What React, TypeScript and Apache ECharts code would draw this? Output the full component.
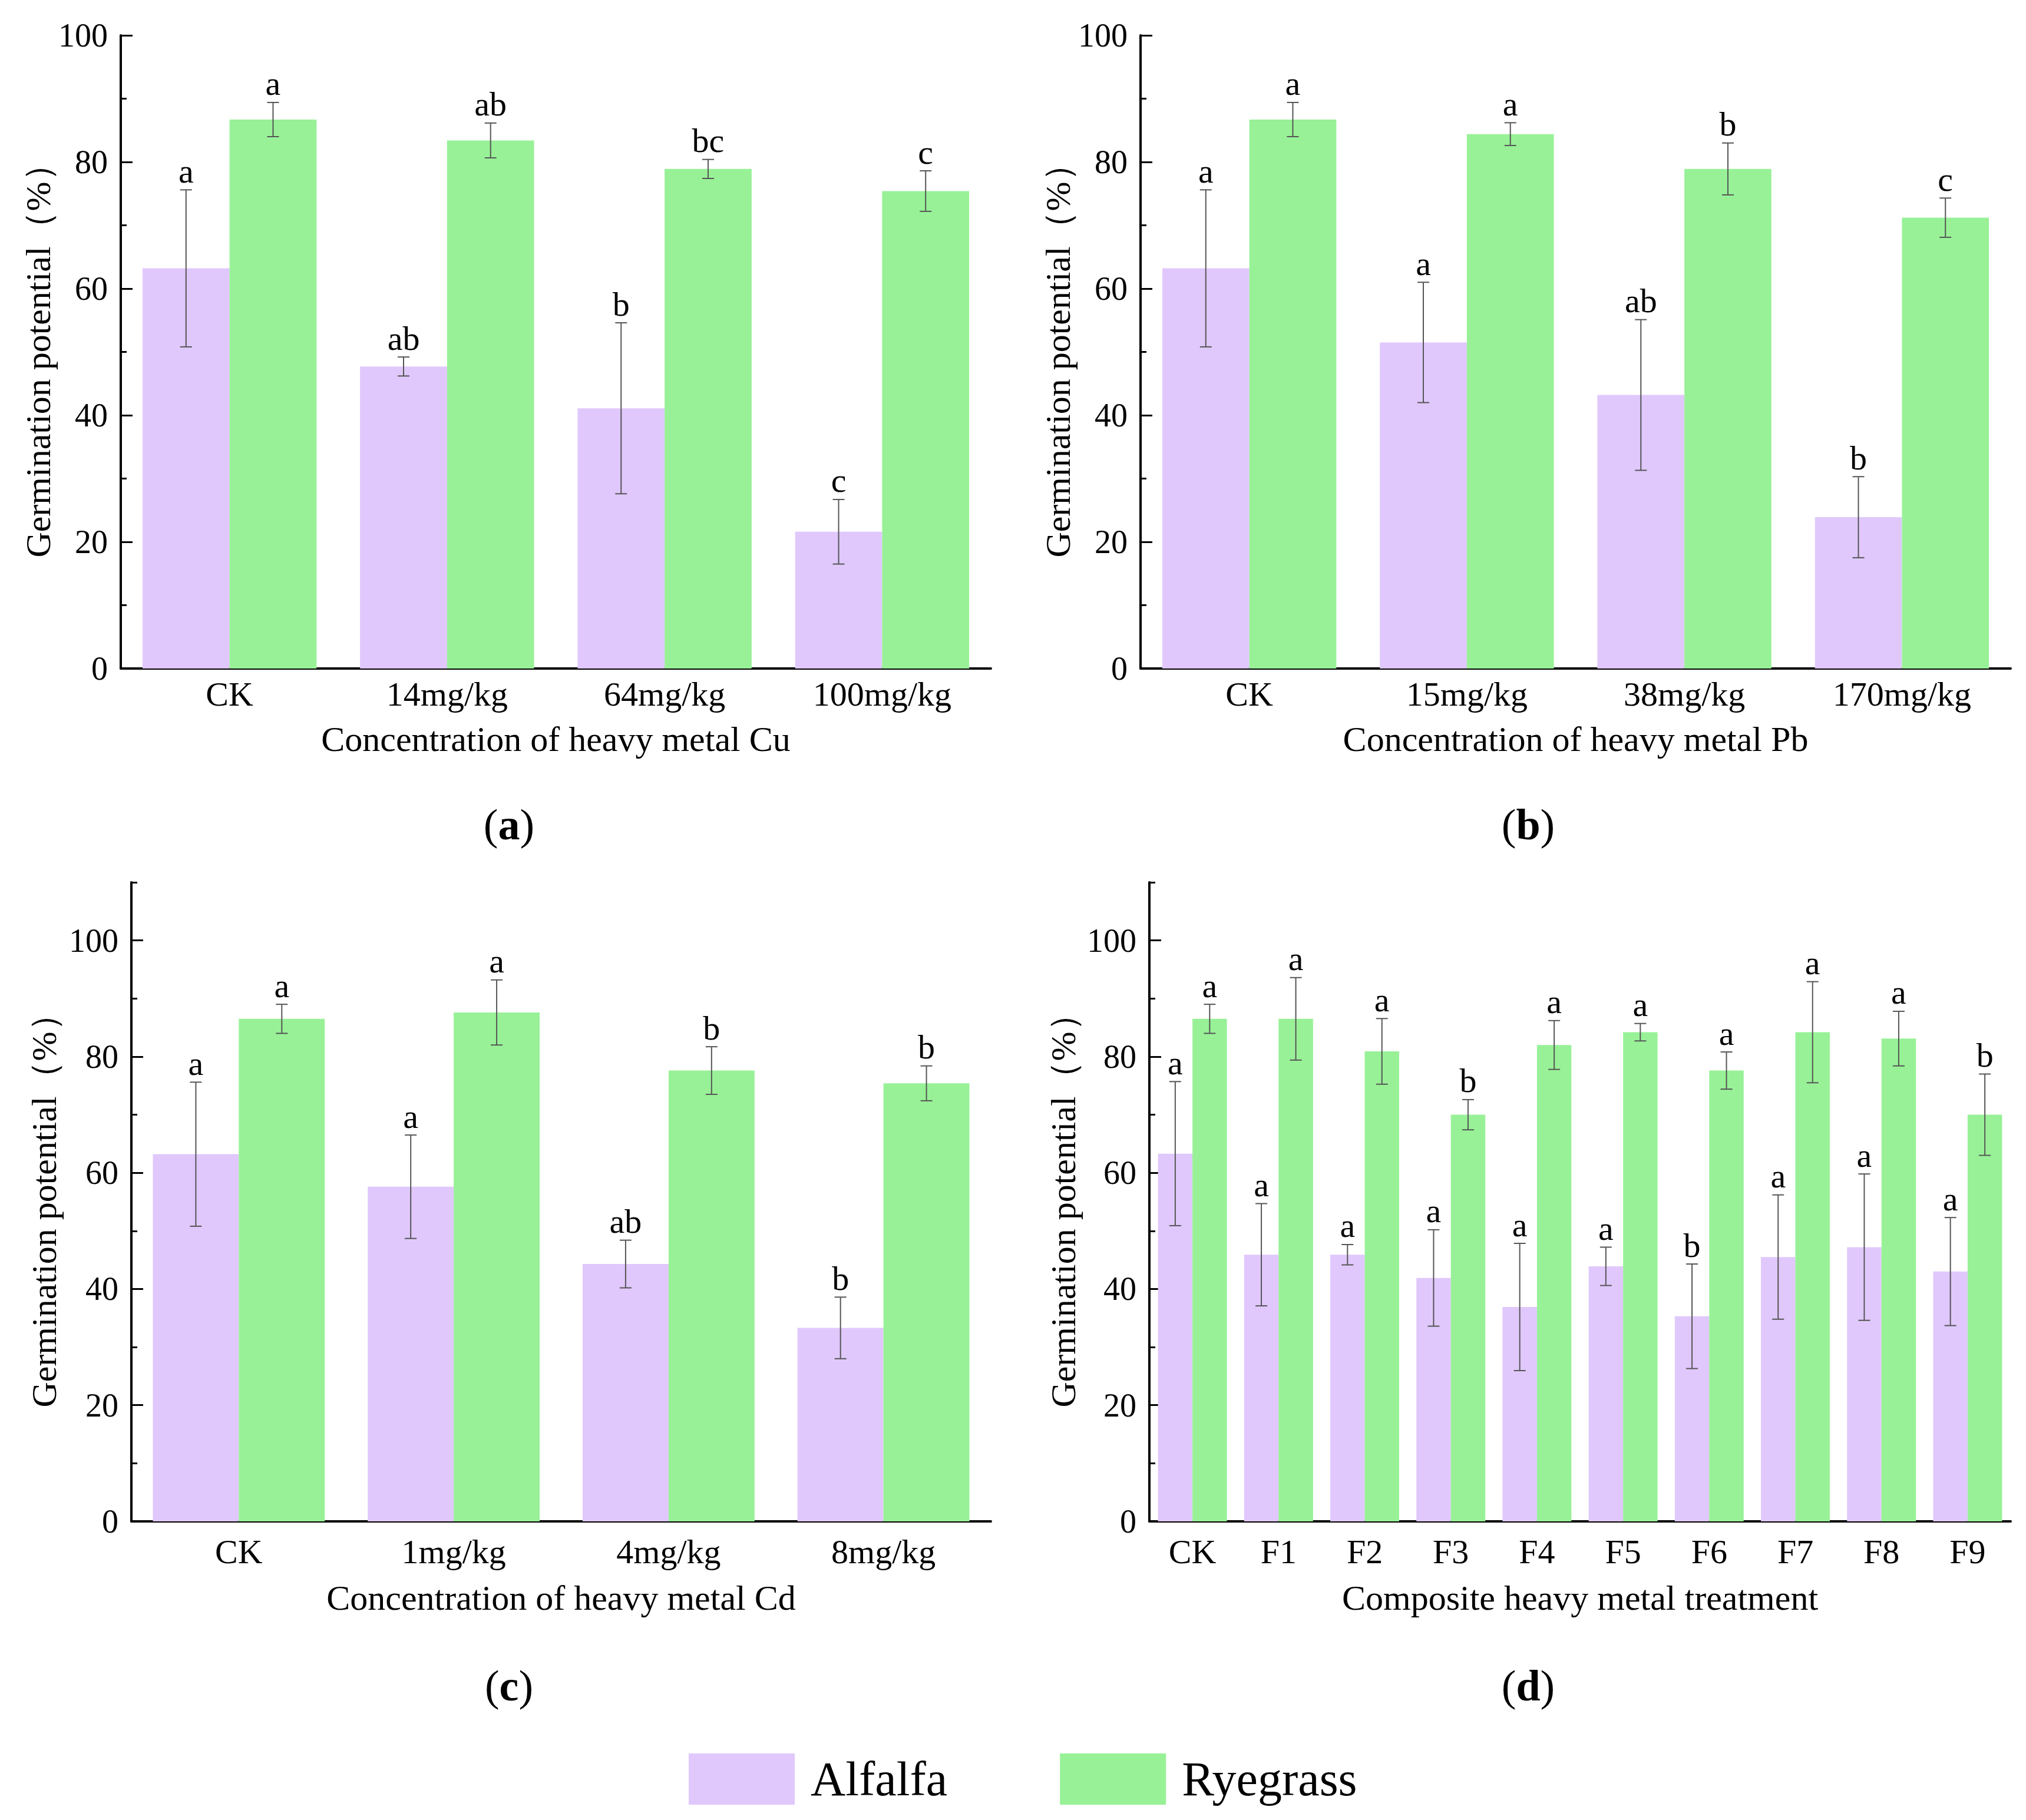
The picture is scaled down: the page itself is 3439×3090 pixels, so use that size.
import React, { useEffect, useRef } from 'react';
import * as echarts from 'echarts';

const FONT = '"Liberation Serif", "Times New Roman", serif';
const ALF_COLOR = '#E0C8FC';
const RYE_COLOR = '#98F197';
const ERR_COLOR = '#555555';

// ---- Panel (a) Cu ----
const cuCats = ['CK', '14mg/kg', '64mg/kg', '100mg/kg'];
const cuAlfalfa = [63.2, 47.7, 41.1, 21.6];
const cuAlfalfaErr = [12.4, 1.5, 13.5, 5.1];
const cuAlfalfaLetters = ['a', 'ab', 'b', 'c'];
const cuRye = [86.7, 83.4, 78.9, 75.4];
const cuRyeErr = [2.7, 2.75, 1.5, 3.2];
const cuRyeLetters = ['a', 'ab', 'bc', 'c'];

// ---- Panel (b) Pb ----
const pbCats = ['CK', '15mg/kg', '38mg/kg', '170mg/kg'];
const pbAlfalfa = [63.2, 51.5, 43.2, 23.9];
const pbAlfalfaErr = [12.4, 9.5, 11.9, 6.4];
const pbAlfalfaLetters = ['a', 'a', 'ab', 'b'];
const pbRye = [86.7, 84.4, 78.9, 71.2];
const pbRyeErr = [2.7, 1.8, 4.1, 3.1];
const pbRyeLetters = ['a', 'a', 'b', 'c'];

// ---- Panel (c) Cd ----
const cdCats = ['CK', '1mg/kg', '4mg/kg', '8mg/kg'];
const cdAlfalfa = [63.2, 57.6, 44.3, 33.3];
const cdAlfalfaErr = [12.4, 8.9, 4.1, 5.3];
const cdAlfalfaLetters = ['a', 'a', 'ab', 'b'];
const cdRye = [86.5, 87.6, 77.6, 75.4];
const cdRyeErr = [2.5, 5.6, 4.1, 3.0];
const cdRyeLetters = ['a', 'a', 'b', 'b'];

// ---- Panel (d) composite ----
const fCats = ['CK', 'F1', 'F2', 'F3', 'F4', 'F5', 'F6', 'F7', 'F8', 'F9'];
const fAlfalfa = [63.3, 45.9, 45.9, 41.9, 36.9, 43.9, 35.3, 45.5, 47.2, 43.0];
const fAlfalfaErr = [12.4, 8.8, 1.75, 8.3, 10.95, 3.3, 9.0, 10.7, 12.6, 9.3];
const fAlfalfaLetters = ['a', 'a', 'a', 'a', 'a', 'a', 'b', 'a', 'a', 'a'];
const fRye = [86.5, 86.5, 80.9, 70.0, 82.0, 84.2, 77.6, 84.2, 83.1, 70.0];
const fRyeErr = [2.5, 7.1, 5.65, 2.6, 4.2, 1.5, 3.2, 8.7, 4.7, 7.0];
const fRyeLetters = ['a', 'a', 'a', 'b', 'a', 'a', 'a', 'a', 'a', 'b'];

const majorTicks = [0, 20, 40, 60, 80, 100];
const minorTicksA = [10, 30, 50, 70, 90];
const minorTicksC = [10, 30, 50, 70, 90, 110];

const xTitles = [
  'Concentration of heavy metal Cu',
  'Concentration of heavy metal Pb',
  'Concentration of heavy metal Cd',
  'Composite heavy metal treatment',
];
const yTitle = 'Germination potential（%）';
const subLetters = ['a', 'b', 'c', 'd'];

function errSeries(gi: number, name: string, vals: number[], errs: number[], letters: string[], side: number) {
  return {
    type: 'custom',
    name,
    xAxisIndex: gi,
    yAxisIndex: gi * 2,
    z: 10,
    data: vals.map((v, i) => [i, v, errs[i]]),
    encode: { x: 0, y: 1 },
    renderItem: (params: any, api: any) => {
      const i = api.value(0);
      const v = api.value(1);
      const e = api.value(2);
      const band = api.size([1, 0])[0];
      const c = api.coord([i, v]);
      const x = c[0] + side * band * 0.2;
      const yTop = api.coord([i, v + e])[1];
      const yBot = api.coord([i, v - e])[1];
      const ls = { stroke: ERR_COLOR, lineWidth: 2 };
      return {
        type: 'group',
        children: [
          { type: 'line', shape: { x1: x, y1: yTop, x2: x, y2: yBot }, style: ls },
          { type: 'line', shape: { x1: x - 10, y1: yTop, x2: x + 10, y2: yTop }, style: ls },
          { type: 'line', shape: { x1: x - 10, y1: yBot, x2: x + 10, y2: yBot }, style: ls },
          {
            type: 'text',
            x,
            y: yTop - 32,
            style: {
              text: letters[params.dataIndex],
              fontSize: 58,
              fontFamily: FONT,
              fill: '#000',
              textAlign: 'center',
              textVerticalAlign: 'middle',
            },
          },
        ],
      };
    },
  };
}

const grids = [
  { left: 205, top: 60, width: 1477, height: 1075 },
  { left: 1936, top: 60, width: 1477, height: 1075 },
  { left: 223, top: 1498, width: 1459, height: 1085 },
  { left: 1951, top: 1498, width: 1462, height: 1085 },
];

export default function App() {
  const ref = useRef<HTMLDivElement>(null);
  useEffect(() => {
    document.body.style.margin = '0';
    document.body.style.overflow = 'hidden';
    if (!ref.current) return;
    const chart = echarts.init(ref.current, undefined, { renderer: 'svg' });

    const panels = [
      { cats: cuCats, a: cuAlfalfa, ae: cuAlfalfaErr, al: cuAlfalfaLetters, r: cuRye, re: cuRyeErr, rl: cuRyeLetters, max: 100, minor: minorTicksA, labelMargin: 14, xGap: 90, yGap: 105 },
      { cats: pbCats, a: pbAlfalfa, ae: pbAlfalfaErr, al: pbAlfalfaLetters, r: pbRye, re: pbRyeErr, rl: pbRyeLetters, max: 100, minor: minorTicksA, labelMargin: 14, xGap: 90, yGap: 105 },
      { cats: cdCats, a: cdAlfalfa, ae: cdAlfalfaErr, al: cdAlfalfaLetters, r: cdRye, re: cdRyeErr, rl: cdRyeLetters, max: 110, minor: minorTicksC, labelMargin: 22, xGap: 100, yGap: 118 },
      { cats: fCats, a: fAlfalfa, ae: fAlfalfaErr, al: fAlfalfaLetters, r: fRye, re: fRyeErr, rl: fRyeLetters, max: 110, minor: minorTicksC, labelMargin: 22, xGap: 100, yGap: 116 },
    ];

    const xAxis: any[] = [];
    const yAxis: any[] = [];
    const series: any[] = [];
    const graphic: any[] = [];

    panels.forEach((p, gi) => {
      xAxis.push({
        type: 'category',
        gridIndex: gi,
        data: p.cats,
        axisLine: { show: true, lineStyle: { color: '#000', width: 4 } },
        axisTick: { show: false },
        axisLabel: { fontSize: 58, fontFamily: FONT, color: '#000', margin: p.labelMargin },
        name: xTitles[gi],
        nameLocation: 'middle',
        nameGap: p.xGap,
        nameTextStyle: { fontSize: 60, fontFamily: FONT, color: '#000' },
        splitLine: { show: false },
      });
      yAxis.push({
        type: 'value',
        gridIndex: gi,
        position: 'left',
        min: 0,
        max: p.max,
        interval: 20,
        axisLine: { show: true, lineStyle: { color: '#000', width: 4 } },
        axisTick: { show: true, inside: true, length: 20, customValues: majorTicks, lineStyle: { color: '#000', width: 3 } },
        axisLabel: { customValues: majorTicks, fontSize: 56, fontFamily: FONT, color: '#000', margin: 22 },
        splitLine: { show: false },
        name: yTitle,
        nameLocation: 'middle',
        nameRotate: 90,
        nameGap: p.yGap,
        nameTextStyle: { fontSize: 60, fontFamily: FONT, color: '#000' },
      });
      yAxis.push({
        type: 'value',
        gridIndex: gi,
        position: 'left',
        min: 0,
        max: p.max,
        interval: 10,
        axisLine: { show: false },
        axisTick: { show: true, inside: true, length: 10, customValues: p.minor, lineStyle: { color: '#000', width: 3 } },
        axisLabel: { show: false },
        splitLine: { show: false },
      });
      series.push({
        type: 'bar',
        name: 'Alfalfa',
        xAxisIndex: gi,
        yAxisIndex: gi * 2,
        data: p.a,
        barGap: '0%',
        barCategoryGap: '20%',
        itemStyle: { color: ALF_COLOR },
      });
      series.push({
        type: 'bar',
        name: 'Ryegrass',
        xAxisIndex: gi,
        yAxisIndex: gi * 2,
        data: p.r,
        barGap: '0%',
        barCategoryGap: '20%',
        itemStyle: { color: RYE_COLOR },
      });
      series.push(errSeries(gi, 'Alfalfa SD', p.a, p.ae, p.al, -1));
      series.push(errSeries(gi, 'Ryegrass SD', p.r, p.re, p.rl, 1));
    });

    const subPos = [
      [864, 1400],
      [2594, 1400],
      [864, 2862],
      [2594, 2862],
    ];
    subPos.forEach((pos, i) => {
      graphic.push({
        type: 'text',
        x: pos[0],
        y: pos[1],
        style: {
          text: `{p|(}{b|${subLetters[i]}}{p|)}`,
          textAlign: 'center',
          textVerticalAlign: 'middle',
          rich: {
            p: { fontSize: 74, fontFamily: FONT, fill: '#000', color: '#000' },
            b: { fontSize: 74, fontFamily: FONT, fontWeight: 'bold', fill: '#000', color: '#000' },
          },
        },
      });
    });

    chart.setOption({
      animation: false,
      backgroundColor: '#fff',
      grid: grids,
      xAxis,
      yAxis,
      series,
      graphic,
      legend: {
        data: ['Alfalfa', 'Ryegrass'],
        left: 1164,
        top: 2972,
        itemWidth: 180,
        itemHeight: 87,
        itemGap: 191,
        icon: 'rect',
        textStyle: { fontSize: 82, fontFamily: FONT, color: '#000', padding: [0, 0, 0, 22] },
      },
    });
    return () => chart.dispose();
  }, []);
  return <div ref={ref} style={{ width: 3439, height: 3090 }} />;
}
